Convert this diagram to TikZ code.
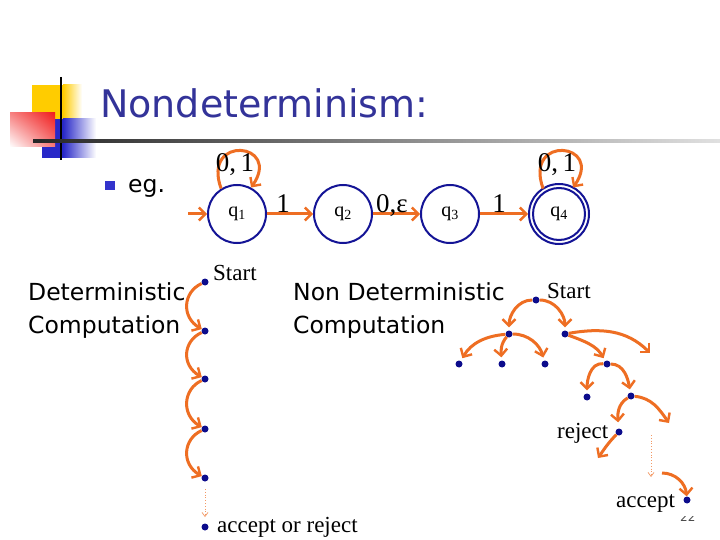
\documentclass[tikz,border=0pt]{standalone}
\usepackage{fontspec}
\setmainfont{Liberation Serif}
\newfontfamily\slidesans{DejaVu Sans}
\usetikzlibrary{arrows.meta,calc,shadings}
\definecolor{org}{RGB}{238,110,35}
\definecolor{navy}{RGB}{12,12,140}
\definecolor{ttl}{RGB}{51,51,153}
\definecolor{circ}{RGB}{20,20,150}
\definecolor{yel}{RGB}{255,204,0}
\definecolor{blu}{RGB}{40,40,200}
\definecolor{bul}{RGB}{51,51,204}
\definecolor{rd}{RGB}{240,30,30}
\begin{document}
\begin{tikzpicture}[x=1pt,y=1pt,
  arr/.style={draw=org, line width=3pt, -{Straight Barb[length=6.5pt,width=13pt,line width=2.4pt]}},
  tarr/.style={arr, shorten >=3pt},
  dotarr/.style={draw=org!70, line width=0.8pt, dotted, -{Straight Barb[length=4pt,width=6pt,line width=0.7pt]}},
  dot/.style={circle, fill=navy, inner sep=0pt, minimum size=7pt},
  st/.style={circle, draw=circ, line width=2pt, minimum size=58pt, inner sep=0pt, font=\fontsize{20}{22}\selectfont},
  lbl/.style={inner sep=0pt, anchor=base, font=\fontsize{27}{30}\selectfont},
  ser/.style={inner sep=0pt, anchor=base west, font=\fontsize{23}{26}\selectfont},
  txt/.style={inner sep=0pt, anchor=base west, font=\slidesans\fontsize{23.5}{26}\selectfont}]
\useasboundingbox (0,0) rectangle (720,-540);
\fill[white] (0,0) rectangle (720,-540);
% header decoration
\fill[yel] (32,-85) rectangle (63,-119);
\shade[left color=yel, right color=white] (63,-85) rectangle (82,-119);
\fill[blu] (42,-119) rectangle (63,-158);
\shade[left color=blu, right color=white] (63,-119) rectangle (96,-158);
\shade[upper right=rd, upper left=rd!55, lower right=rd!60, lower left=white] (10,-113) rectangle (55,-147);
\draw[black, line width=2pt] (61,-77) -- (61,-160);
\shade[left color=black!85, right color=black!12] (33,-139.5) rectangle (720,-142.5);
% title
\node[inner sep=0pt, anchor=base west, text=ttl, font=\slidesans\fontsize{38}{42}\selectfont] (title) at (100,-118) {Nondeterminism:};
\node[fill=bul, inner sep=0pt, minimum size=9.5pt] (bullet) at (110,-185.5) {};
\node[txt] (eg) at (128,-193) {eg.};
% automaton
\node[st] (q1) at (237,-214) {q\textsubscript{1}};
\node[st] (q2) at (343,-214) {q\textsubscript{2}};
\node[st] (q3) at (450,-214) {q\textsubscript{3}};
\node[st, minimum size=52pt] (q4) at (559,-214) {q\textsubscript{4}};
\draw[circ, line width=2pt] (q4.center) circle[radius=30pt];
\coordinate (s0) at (188,-214);
\draw[arr] (s0) -- (q1);
\draw[arr] (q1) -- (q2);
\draw[arr] (q2) -- (q3);
\draw[arr] (q3) -- ($(q4.west)+(-4,0)$);
\draw[arr] (q1.122) .. controls +(110:58) and +(55:55) .. (q1.62);
\draw[arr] ($(q4.center)+(122:30)$) .. controls +(110:58) and +(55:55) .. ($(q4.center)+(62:30)$);
\node[lbl] (l1) at (235,-172) {0,\,1};
\node[lbl] (l4) at (557,-172) {0,\,1};
\node[lbl] (e1) at (283,-213) {1};
\node[lbl] (e2) at (392,-213) {0,ε};
\node[lbl] (e3) at (499,-213) {1};
% deterministic computation
\node[txt] (det1) at (28,-300) {Deterministic};
\node[txt] (det2) at (28,-333) {Computation};
\node[dot] (d0) at (205,-282) {};
\node[dot] (d1) at (205,-331) {};
\node[dot] (d2) at (205,-379) {};
\node[dot] (d3) at (205,-429) {};
\node[dot] (d4) at (205,-478) {};
\node[dot] (d5) at (205,-527) {};
\foreach \a/\b in {d0/d1,d1/d2,d2/d3,d3/d4}
  \draw[arr] (\a) .. controls +(-22,-10) and +(-24,14) .. (\b);
\coordinate (dt0) at (205,-489);
\coordinate (dt1) at (205,-517);
\draw[dotarr] (dt0) -- (dt1);
\node[ser] (st1) at (213,-280) {Start};
\node[ser] (ar) at (217,-532) {accept or reject};
% nondeterministic computation
\node[txt] (nd1) at (293,-300) {Non Deterministic};
\node[txt] (nd2) at (293,-333) {Computation};
\node[dot] (S) at (536,-300) {};
\node[dot] (A) at (509,-334) {};
\node[dot] (B) at (565,-334) {};
\node[dot] (a1) at (459,-364) {};
\node[dot] (a2) at (502,-364) {};
\node[dot] (a3) at (545,-364) {};
\node[dot] (C) at (607,-364) {};
\node[dot] (c1) at (587,-397) {};
\node[dot] (D) at (631,-396) {};
\node[dot] (R) at (619,-432) {};
\node[dot] (Acc) at (687,-500) {};
\coordinate (f1) at (650,-353);
\coordinate (f2) at (669,-423);
\coordinate (f3) at (598,-458);
\coordinate (f4) at (662,-473);
\coordinate (dn0) at (651,-435);
\coordinate (dn1) at (651,-477);
\draw[tarr] (S) to[out=180,in=90] (A);
\draw[tarr] (S) to[out=0,in=90] (B);
\draw[arr] (B) to[out=10,in=135] (f1);
\draw[tarr] (A) to[out=185,in=60] (a1);
\draw[tarr] (A) to[out=230,in=95] (a2);
\draw[tarr] (A) to[out=0,in=105] (a3);
\draw[tarr] (B) to[out=-20,in=120] (C);
\draw[tarr] (C) to[out=175,in=90] (c1);
\draw[tarr] (C) to[out=0,in=100] (D);
\draw[tarr, shorten >=6pt] (D) to[out=210,in=95] (R);
\draw[arr] (D) to[out=-5,in=125] (f2);
\draw[arr] (R) to[out=225,in=55] (f3);
\draw[dotarr] (dn0) -- (dn1);
\draw[arr] (f4) to[out=0,in=95] (Acc);
\node[ser] (st2) at (547,-298) {Start};
\node[ser] (rej) at (557,-438) {reject};
\node[ser] (acc) at (616,-507) {accept};
% page number (partly hidden)
\node[inner sep=0pt, anchor=base west, text=black!70, font=\slidesans\fontsize{12}{14}\selectfont] (pg) at (680,-521) {22};
\fill[white] (675,-505) rectangle (705,-515.5);
\end{tikzpicture}
\end{document}
